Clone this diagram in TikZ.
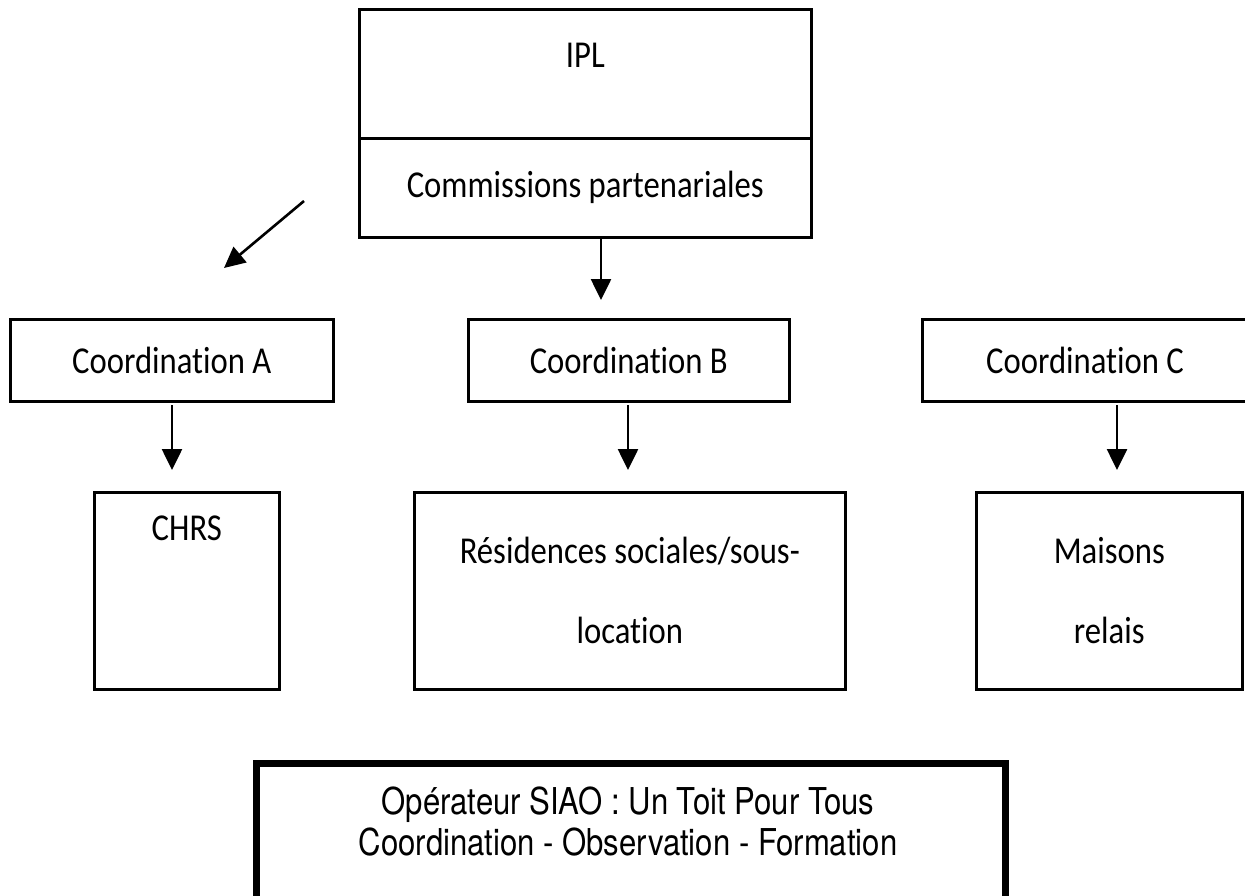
\documentclass[tikz,border=0pt]{standalone}
\usepackage{fontspec}
\setmainfont[FakeStretch=0.86,Ligatures=NoCommon]{Carlito}
\newfontfamily\siaofont[FakeStretch=0.84]{TeX Gyre Heros}
\usetikzlibrary{arrows.meta,calc}
\begin{document}
\begin{tikzpicture}[x=1pt,y=-1pt,
  box/.style={draw, line width=2.6pt, inner sep=0pt, anchor=north west},
  lbl/.style={inner sep=0pt, align=center, font=\fontsize{38}{80}\selectfont},
  siao/.style={inner sep=0pt, align=center, font=\siaofont\fontsize{37}{41}\selectfont},
  arr/.style={line width=2.6pt, -{Triangle[length=21pt,width=20pt]}}]
\useasboundingbox (0,0) rectangle (1245,895);
\clip (0,0) rectangle (1245,895);
% top boxes
\node[box, minimum width=452, minimum height=129] (ipl) at (358,8) {};
\node[lbl] (ipltxt) at ($(ipl.north)+(0,47)$) {IPL};
\node[box, minimum width=452, minimum height=99] (comm) at (358,137) {};
\node[lbl] (commtxt) at (comm.center) {Commissions partenariales};
% coordination boxes
\node[box, minimum width=323, minimum height=82] (ca) at (9,318) {};
\node[lbl] (catxt) at (ca.center) {Coordination A};
\node[box, minimum width=321, minimum height=82] (cb) at (467,318) {};
\node[lbl] (cbtxt) at (cb.center) {Coordination B};
\node[box, minimum width=340, minimum height=82] (cc) at (921,318) {};
\node[lbl] (cctxt) at ($(cc.west)+(164,0)$) {Coordination C};
% lower boxes
\node[box, minimum width=185, minimum height=197] (chrs) at (93,491) {};
\node[lbl] (chrstxt) at ($(chrs.north)+(0,37)$) {CHRS};
\node[box, minimum width=431, minimum height=197] (res) at (413,491) {};
\node[lbl] (restxt) at (res.center) {Résidences sociales/sous-\\location};
\node[box, minimum width=266, minimum height=197] (mai) at (975,491) {};
\node[lbl] (maitxt) at (mai.center) {Maisons\\relais};
% bottom box
\node[box, line width=6.5pt, minimum width=749, minimum height=150] (siaobox) at (253,760) {};
\node[siao] (siaotxt) at (628,821) {Opérateur SIAO : Un Toit Pour Tous\\Coordination - Observation - Formation};
% arrow end points
\coordinate (d1s) at (304,201); \coordinate (d1e) at (224,268);
\coordinate (d2s) at (601,236); \coordinate (d2e) at (601,300);
\coordinate (aAs) at (172,405); \coordinate (aAe) at (172,470);
\coordinate (aBs) at (628,405); \coordinate (aBe) at (628,470);
\coordinate (aCs) at (1117,405); \coordinate (aCe) at (1117,470);
\draw[arr] (d1s) -- (d1e);
\draw[arr] (d2s) -- (d2e);
\draw[arr] (aAs) -- (aAe);
\draw[arr] (aBs) -- (aBe);
\draw[arr] (aCs) -- (aCe);
\end{tikzpicture}
\end{document}
